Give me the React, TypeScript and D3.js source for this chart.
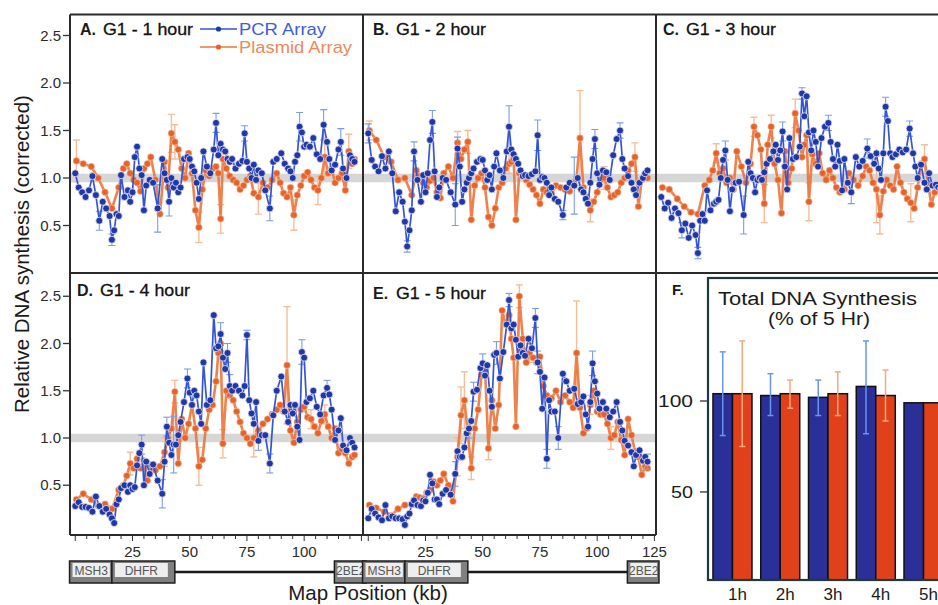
import React from 'react';
import * as d3 from 'd3';

const FONT = "'Liberation Sans', Arial, Helvetica, sans-serif";

// Probe positions (kb)
const PCR_KB = [
  0, 1.5, 3, 4.5, 6, 7.5, 9, 10.5, 12, 13.5,
  15, 16, 17, 18, 19, 20, 21.5, 23, 24, 25,
  26, 27, 28, 29, 30, 31, 32.5, 34, 36, 38,
  39, 40, 41, 42, 43, 44, 45, 46, 47.5, 49,
  50, 51, 52, 53, 54, 55, 56, 57.5, 59, 60.5,
  61.5, 62.5, 63.5, 64.5, 65.5, 66.5, 67.5, 68.5, 70, 71.5,
  73, 74, 75, 76, 77, 78, 79, 80, 81.5, 83,
  85, 86.5, 88, 90, 91.5, 93, 94, 95, 96, 97,
  98, 99, 100, 101, 102.5, 104, 105.5, 107, 108.5, 110,
  111, 112, 113.5, 115, 116, 117, 118.5, 120, 121, 122,
];
const PL_KB = [
  0.5, 3.5, 7, 10, 13, 16, 19, 21, 22.5, 24,
  25.5, 27, 28.5, 30, 31.5, 33, 35, 37, 39, 40.5,
  42, 43.5, 45, 46.5, 48, 49.5, 51, 52.5, 54, 55.5,
  57, 58.5, 60, 61.5, 62.5, 63.5, 64.5, 66, 67.5, 69,
  70.5, 72, 73.5, 75, 76.5, 78, 80, 82, 84, 86,
  88, 89.5, 91, 92.5, 94, 95.5, 97, 98.5, 100, 101.5,
  103, 104.5, 106, 107.5, 109, 110.5, 112, 113.5, 115, 116.5,
  118, 119.5, 121, 122,
];

// Panel A: G1 - 1 hour
const A_PCR = [
  1.05, 0.9, 0.85, 0.8, 0.87, 1.02, 0.82, 0.55, 0.75, 0.68,
  0.6, 0.35, 0.45, 0.62, 0.6, 1.03, 0.8, 0.87, 0.75, 0.85,
  1.22, 1.33, 1.1, 1.03, 0.66, 0.92, 0.98, 0.95, 0.68, 1.2,
  1.05, 0.98, 0.75, 1.0, 0.9, 0.95, 0.85, 0.9, 1.2, 1.22,
  1.2, 1.12, 1.07, 0.95, 0.78, 1.0, 1.28, 1.12, 1.05, 1.3,
  1.58, 1.24, 1.36, 1.3, 1.28, 1.2, 1.17, 1.2, 1.1, 1.15,
  1.18, 1.47, 1.17, 1.1, 1.0, 1.14, 0.98, 1.08, 1.05, 0.87,
  0.68, 1.17, 1.2, 1.26, 1.15, 1.1, 1.07, 1.0, 1.17, 1.24,
  1.54, 1.48, 1.33, 1.35, 1.33, 1.42, 1.25, 1.2, 1.56, 1.38,
  1.2, 1.08, 1.14, 1.3, 1.38, 1.1, 1.0, 1.24, 1.2, 1.17,
];
const A_PL = [
  1.18, 1.15, 1.12, 1.0, 0.85, 0.68, 0.9, 1.1, 1.15, 1.05,
  0.98, 0.95, 0.86, 1.1, 1.15, 1.22, 0.98, 0.62, 1.17, 0.9,
  1.47, 1.38, 1.3, 1.1, 1.0, 1.26, 1.05, 0.66, 0.48, 0.88,
  1.08, 1.02, 1.1, 1.12, 1.05, 0.57, 1.2, 1.1, 1.02, 0.98,
  0.95, 0.88, 0.92, 0.98, 1.02, 0.84, 0.8, 0.95, 0.9, 0.98,
  1.05, 0.95, 0.84, 0.8, 0.9, 0.61, 0.82, 0.92, 1.02, 1.06,
  0.98, 0.9, 0.87, 1.0, 1.22, 1.05, 1.1, 0.95, 1.0, 1.05,
  0.87, 1.28, 1.15, 1.2,
];
const A_PCR_ERR = [[7, 0.1], [11, 0.06], [28, 0.25], [32, 0.15], [50, 0.1], [61, 0.08], [70, 0.13], [80, 0.15], [88, 0.16], [94, 0.14]];
const A_PL_ERR = [[0, 0.22], [20, 0.2], [21, 0.18], [28, 0.16], [35, 0.15], [46, 0.18], [55, 0.16], [62, 0.15], [64, 0.2], [71, 0.18]];

// Panel B: G1 - 2 hour
const B_PCR = [
  1.47, 1.19, 1.12, 1.07, 1.23, 1.1, 1.28, 1.05, 0.65, 0.85,
  0.75, 0.54, 0.28, 0.45, 0.66, 1.28, 0.98, 0.75, 1.03, 0.85,
  1.05, 1.4, 1.59, 1.07, 0.8, 0.9, 1.0, 0.98, 0.85, 0.72,
  1.31, 1.12, 0.75, 0.88, 0.95, 1.0, 1.05, 1.1, 1.17, 1.2,
  1.19, 1.08, 0.98, 1.03, 0.88, 1.12, 1.26, 1.08, 1.0, 1.28,
  1.54, 1.3, 1.25, 1.2, 1.15, 1.08, 1.02, 1.03, 1.02, 1.04,
  1.07, 1.45, 0.98, 1.01, 1.0, 0.95, 0.82, 0.9, 0.78, 0.75,
  0.61, 0.9, 0.95, 0.92, 1.0, 0.88, 0.85, 0.78, 0.73, 0.95,
  1.2, 1.41, 1.05, 0.93, 1.08, 1.06, 0.98, 1.24, 1.41, 1.5,
  1.2, 1.1, 1.02, 0.95, 0.88, 0.82, 0.95, 1.0, 1.05, 1.08,
];
const B_PL = [
  1.5, 1.4, 1.22, 1.17, 0.98, 1.0, 0.82, 1.08, 1.02, 0.95,
  0.9, 0.97, 1.0, 0.85, 0.79, 1.05, 1.12, 1.0, 1.37, 1.2,
  1.3, 1.38, 0.56, 0.92, 1.0, 1.05, 0.9, 0.59, 0.5, 0.68,
  0.9, 0.95, 1.1, 1.15, 1.17, 1.2, 0.56, 1.05, 1.02, 0.98,
  0.93, 0.88, 0.82, 0.73, 0.88, 0.85, 0.83, 0.92, 0.9, 0.88,
  0.86, 0.95, 1.0, 1.42, 0.9, 0.8, 0.66, 0.75, 0.85, 0.98,
  1.0, 0.9, 0.8, 0.82, 0.85, 0.95, 1.0, 1.08, 1.15, 1.22,
  0.7, 0.98, 1.02, 1.0,
];
const B_PCR_ERR = [[0, 0.1], [12, 0.06], [15, 0.1], [22, 0.12], [29, 0.22], [30, 0.12], [50, 0.22], [61, 0.16], [70, 0.05], [73, 0.3], [81, 0.1], [89, 0.08]];
const B_PL_ERR = [[0, 0.1], [18, 0.12], [21, 0.12], [33, 0.1], [53, 0.5], [56, 0.12], [60, 0.12], [69, 0.15]];

// Panel C: G1 - 3 hour
const C_PCR = [
  0.8, 0.68, 0.74, 0.58, 0.68, 0.63, 0.45, 0.52, 0.37, 0.5,
  0.4, 0.21, 0.55, 0.62, 0.55, 0.87, 0.66, 0.73, 0.75, 0.77,
  1.0, 1.19, 1.29, 0.98, 0.65, 0.88, 0.95, 0.96, 0.61, 1.17,
  1.05, 1.0, 0.85, 0.98, 1.0, 0.98, 1.06, 1.15, 1.2, 1.28,
  1.35, 1.19, 1.29, 1.49, 1.12, 0.88, 1.42, 1.2, 1.22, 1.33,
  1.89, 1.65, 1.86, 1.48, 1.29, 1.5, 1.38, 1.12, 1.42, 1.54,
  1.58, 1.38, 1.2, 1.12, 1.35, 1.18, 0.87, 1.2, 0.95, 0.85,
  1.22, 1.12, 1.18, 1.31, 1.23, 1.15, 1.26, 1.1, 0.98, 1.26,
  1.75, 1.6, 1.26, 1.22, 1.25, 1.3, 1.27, 1.3, 1.52, 1.26,
  1.12, 1.0, 1.14, 0.95, 0.88, 1.05, 0.92, 0.93, 0.9, 0.88,
];
const C_PL = [
  0.9, 0.88, 0.78, 0.7, 0.64, 0.62, 0.92, 0.98, 1.08, 1.26,
  1.05, 1.1, 0.95, 1.0, 0.88, 1.28, 1.12, 0.95, 1.15, 1.54,
  1.45, 1.3, 0.73, 1.35, 1.54, 1.15, 0.98, 0.63, 1.28, 0.95,
  1.1, 1.68, 1.5, 1.22, 1.35, 1.45, 0.75, 1.25, 1.15, 1.26,
  1.05, 0.98, 1.08, 1.0, 0.9, 0.85, 0.88, 1.05, 0.98, 0.92,
  1.02, 1.12, 1.08, 0.95, 0.88, 0.61, 0.86, 0.98, 0.92, 0.88,
  1.12, 0.95, 0.85, 0.78, 0.74, 0.68, 0.9, 1.15, 1.2, 0.95,
  0.72, 0.85, 0.9, 0.9,
];
const C_PCR_ERRS = [[6, 0.08], [11, 0.06], [22, 0.1], [28, 0.2], [43, 0.1], [50, 0.06], [60, 0.08], [69, 0.12], [73, 0.1], [80, 0.1], [88, 0.08]];
const C_PL_ERRS = [[9, 0.1], [19, 0.1], [22, 0.2], [24, 0.12], [31, 0.15], [36, 0.2], [54, 0.35], [55, 0.2], [64, 0.2], [68, 0.15]];

// Panel D: G1 - 4 hour
const D_PCR = [
  0.28, 0.32, 0.27, 0.27, 0.26, 0.22, 0.38, 0.28, 0.22, 0.25,
  0.19, 0.15, 0.1, 0.3, 0.35, 0.47, 0.5, 0.43, 0.5, 0.46,
  0.48, 0.71, 0.84, 0.93, 0.5, 0.75, 0.62, 0.72, 0.55, 0.41,
  0.75, 1.12, 0.95, 0.82, 0.93, 0.93, 1.03, 1.17, 1.38, 1.63,
  1.48, 1.35, 1.5, 1.45, 1.28, 1.15, 1.8, 1.35, 1.4, 2.3,
  1.95, 1.97, 2.1, 1.85, 1.73, 1.9, 1.55, 1.5, 1.55, 1.5,
  1.45, 1.55, 2.09, 1.4, 1.26, 1.15, 1.38, 0.97, 1.03, 1.03,
  0.73, 1.24, 1.5, 1.65, 1.28, 1.17, 1.35, 1.26, 1.35, 1.12,
  0.98, 1.91, 1.85, 1.38, 1.42, 1.5, 1.33, 1.25, 1.45, 1.53,
  1.46, 1.3, 0.98, 1.08, 1.21, 0.92, 0.87, 1.0, 0.95, 0.9,
];
const D_PL = [
  0.35, 0.41, 0.35, 0.28, 0.3, 0.25, 0.45, 0.5, 0.6, 0.73,
  0.68, 0.78, 0.68, 0.76, 0.55, 0.72, 0.66, 0.7, 0.85, 1.0,
  1.1, 1.49, 0.73, 1.2, 1.0, 1.15, 1.35, 1.1, 0.7, 0.77,
  1.1, 1.3, 1.35, 1.6, 1.9, 2.0, 0.94, 1.5, 1.45, 1.4,
  1.28, 1.17, 1.05, 1.0, 0.94, 1.0, 1.08, 1.15, 1.2, 1.25,
  1.3, 1.35, 1.28, 1.77, 1.08, 0.95, 1.17, 1.3, 1.33, 1.22,
  1.2, 1.12, 1.05, 1.18, 1.25, 1.12, 1.0, 1.1, 0.84, 0.88,
  0.84, 0.73, 0.8, 0.82,
];
const D_PCR_ERR = [[23, 0.1], [29, 0.15], [31, 0.1], [34, 0.3], [39, 0.1], [52, 0.12], [55, 0.1], [56, 0.12], [62, 0.05], [67, 0.1], [70, 0.1], [81, 0.13], [89, 0.08]];
const D_PL_ERR = [[9, 0.12], [18, 0.15], [21, 0.12], [28, 0.2], [35, 0.08], [36, 0.15], [45, 0.2], [53, 0.62], [60, 0.1], [64, 0.1]];

// Panel E: G1 - 5 hour
const E_PCR = [
  0.15, 0.25, 0.2, 0.16, 0.13, 0.29, 0.15, 0.17, 0.15, 0.15,
  0.14, 0.08, 0.17, 0.2, 0.3, 0.34, 0.29, 0.28, 0.34, 0.33,
  0.42, 0.61, 0.52, 0.35, 0.35, 0.3, 0.41, 0.45, 0.4, 0.62,
  0.86, 0.8, 0.8, 0.9, 1.05, 1.1, 1.18, 1.49, 1.51, 1.74,
  1.79, 1.66, 1.77, 1.5, 1.33, 1.88, 1.9, 1.63, 1.91, 2.2,
  2.46, 2.16, 2.2, 2.04, 1.86, 1.98, 1.9, 1.87, 2.05, 1.95,
  2.27, 1.8, 1.7, 1.31, 1.64, 0.78, 1.4, 1.28, 1.28, 1.0,
  1.68, 1.6, 1.5, 1.52, 1.36, 1.38, 1.44, 1.25, 1.12, 1.38,
  1.79, 1.6, 1.47, 1.31, 1.38, 1.31, 1.22, 1.28, 1.38, 1.17,
  1.08, 0.97, 0.92, 0.85, 0.7, 0.82, 0.87, 0.76, 0.8, 0.75,
];
const E_PL = [
  0.29, 0.26, 0.22, 0.18, 0.25, 0.29, 0.3, 0.38, 0.37, 0.36,
  0.42, 0.45, 0.54, 0.5, 0.55, 0.62, 0.5, 0.33, 0.8, 1.24,
  1.4, 1.05, 0.68, 1.1, 1.3, 1.67, 1.74, 0.89, 1.4, 1.1,
  1.35, 2.35, 2.2, 2.3, 2.05, 1.85, 1.12, 2.5, 2.05, 1.8,
  1.9, 1.85, 1.8, 1.86, 1.55, 1.45, 1.42, 1.5, 1.38, 1.45,
  1.38, 1.32, 1.9, 1.32, 1.05, 1.1, 1.35, 1.5, 1.28, 1.25,
  1.25, 1.15, 1.0, 1.03, 1.17, 0.98, 0.82, 1.2, 1.03, 0.86,
  0.8, 0.61, 0.7, 0.68,
];
const E_PCR_ERR = [[29, 0.13], [35, 0.1], [37, 0.1], [40, 0.1], [46, 0.12], [50, 0.07], [60, 0.1], [61, 0.12], [65, 0.1], [69, 0.12], [80, 0.13], [99, 0.08]];
const E_PL_ERR = [[18, 0.2], [19, 0.3], [20, 0.3], [22, 0.12], [27, 0.12], [37, 0.12], [40, 0.1], [52, 0.55], [56, 0.1], [62, 0.12]];

const PANEL_LETTERS = ['A', 'B', 'C', 'D', 'E'];
const PANEL_TITLES = ['G1 - 1 hour', 'G1 - 2 hour', 'G1 - 3 hour', 'G1 - 4 hour', 'G1 - 5 hour'];
const Y_TICKS = [0.5, 1.0, 1.5, 2.0, 2.5];
const X_LABELS_D = [25, 50, 75, 100];
const X_LABELS_E = [25, 50, 75, 100, 125];
const X_MINOR = d3.range(0, 126, 5);

// Gene map (kb)
const GENE_NAMES = ['MSH3', 'DHFR', '2BE2'];
const GENE_START = [-2.5, 16, 113.2];
const GENE_END = [16, 43.5, 127];
const MAP_LINE = [43.5, 113.2];

// Panel F: total DNA synthesis (% of 5 hr)
const HOURS = ['1h', '2h', '3h', '4h', '5h'];
const TOTAL_PCR = [104, 103, 102, 108, 99];
const TOTAL_PL = [104, 104, 104, 103, 99];
const TOTAL_PCR_LO = [81, 92, 92, 82, 99];
const TOTAL_PCR_HI = [127, 115, 111.5, 133, 99];
const TOTAL_PL_LO = [75, 96, 92, 89, 99];
const TOTAL_PL_HI = [133, 111.5, 116, 117, 99];
const F_TICKS = [50, 100];

const COL_PCR_LINE = '#3354d4';
const COL_PCR_DOT = '#1d39a6';
const COL_PCR_ERR = '#7a9de8';
const COL_PL_LINE = '#ec7438';
const COL_PL_DOT = '#e6622a';
const COL_PL_ERR = '#f7bd98';

const KB_DOMAIN = [-2.3, 125.7];
const PW = 293;

const yTop = d3.scaleLinear().domain([0, 2.5]).range([273, 35.5]);
const yBot = d3.scaleLinear().domain([0, 2.5]).range([532.5, 296.25]);

const GEOM = [
  { left: 70, top: 14.5, bottom: 273, row: 0, tx: 80, ty: 35 },
  { left: 363, top: 14.5, bottom: 273, row: 0, tx: 373, ty: 35 },
  { left: 656, top: 14.5, bottom: 273, row: 0, tx: 663, ty: 35 },
  { left: 70, top: 273, bottom: 535, row: 1, tx: 77, ty: 296 },
  { left: 363, top: 273, bottom: 535, row: 1, tx: 373, ty: 299 },
];
const SERIES = [
  [A_PCR, A_PL, A_PCR_ERR, A_PL_ERR],
  [B_PCR, B_PL, B_PCR_ERR, B_PL_ERR],
  [C_PCR, C_PL, C_PCR_ERRS, C_PL_ERRS],
  [D_PCR, D_PL, D_PCR_ERR, D_PL_ERR],
  [E_PCR, E_PL, E_PCR_ERR, E_PL_ERR],
];

function ErrBars({ kb, vals, errs, x, y, color, w }: any) {
  return (
    <g stroke={color} strokeWidth={w} fill="none">
      {errs.map(([i, e]: number[], k: number) => {
        const v = vals[i];
        if (v === undefined) return null;
        const xx = x(kb[i]);
        const y1 = y(v - e);
        const y2 = y(v + e);
        return (
          <g key={k}>
            <line x1={xx} x2={xx} y1={y1} y2={y2} />
            <line x1={xx - 3.5} x2={xx + 3.5} y1={y1} y2={y1} />
            <line x1={xx - 3.5} x2={xx + 3.5} y1={y2} y2={y2} />
          </g>
        );
      })}
    </g>
  );
}

function Panel({ idx }: { idx: number }) {
  const g = GEOM[idx];
  const [pcr, pl, pcrErr, plErr] = SERIES[idx] as any;
  const x = d3.scaleLinear().domain(KB_DOMAIN).range([g.left, g.left + PW]);
  const y = g.row === 0 ? yTop : yBot;
  const n1 = Math.min(pcr.length, PCR_KB.length);
  const n2 = Math.min(pl.length, PL_KB.length);
  const pcrPts = d3.range(n1).map((i) => [PCR_KB[i], pcr[i]]);
  const plPts = d3.range(n2).map((i) => [PL_KB[i], pl[i]]);
  const line = d3.line<number[]>().x((d) => x(d[0])).y((d) => y(d[1]));
  const clipId = `clip${PANEL_LETTERS[idx]}`;
  return (
    <g>
      <defs>
        <clipPath id={clipId}>
          <rect x={g.left + 1} y={g.top + 1} width={PW - 2} height={g.bottom - g.top - 2} />
        </clipPath>
      </defs>
      <g clipPath={`url(#${clipId})`}>
        <rect x={g.left} width={PW} y={y(1.045)} height={y(0.955) - y(1.045)} fill="#d6d6d6" />
        <ErrBars kb={PL_KB} vals={pl} errs={plErr} x={x} y={y} color={COL_PL_ERR} w={1.4} />
        <path d={line(plPts) || ''} fill="none" stroke={COL_PL_LINE} strokeWidth={2.6} strokeOpacity={0.9} strokeLinejoin="round" />
        {plPts.map((d, i) => (
          <circle key={i} cx={x(d[0])} cy={y(d[1])} r={3.3} fill={COL_PL_DOT} stroke="#f6c4a6" strokeWidth={0.6} />
        ))}
        <ErrBars kb={PCR_KB} vals={pcr} errs={pcrErr} x={x} y={y} color={COL_PCR_ERR} w={1.1} />
        <path d={line(pcrPts) || ''} fill="none" stroke={COL_PCR_LINE} strokeWidth={1.7} strokeLinejoin="round" />
        {pcrPts.map((d, i) => (
          <circle key={i} cx={x(d[0])} cy={y(d[1])} r={3.5} fill={COL_PCR_DOT} stroke="#efe2f2" strokeWidth={0.8} />
        ))}
      </g>
      <text x={g.tx} y={g.ty} fontSize={16} fontWeight="bold" fill="#1a1a1a">{PANEL_LETTERS[idx]}.</text>
      <text x={g.tx + 23} y={g.ty} fontSize={16.5} fill="#111" stroke="#111" strokeWidth={0.3} textLength={90} lengthAdjust="spacingAndGlyphs">
        {PANEL_TITLES[idx]}
      </text>
    </g>
  );
}

function YAxis({ row }: { row: number }) {
  const y = row === 0 ? yTop : yBot;
  return (
    <g>
      {Y_TICKS.map((t) => (
        <g key={t}>
          <line x1={63} x2={70} y1={y(t)} y2={y(t)} stroke="#333" strokeWidth={1.3} />
          <text x={61} y={y(t) + 5} textAnchor="end" fontSize={15} fill="#2a2a2a">{t.toFixed(1)}</text>
        </g>
      ))}
    </g>
  );
}

function XAxis({ left, labels }: { left: number; labels: number[] }) {
  const x = d3.scaleLinear().domain(KB_DOMAIN).range([left, left + PW]);
  return (
    <g>
      {X_MINOR.map((t) => (
        <line key={t} x1={x(t)} x2={x(t)} y1={535} y2={t % 25 === 0 ? 541 : 539} stroke="#333" strokeWidth={1} />
      ))}
      {labels.map((t) => (
        <text key={t} x={x(t)} y={557} textAnchor="middle" fontSize={15} fill="#2a2a2a">{t}</text>
      ))}
    </g>
  );
}

function GeneMap({ left }: { left: number }) {
  const x = d3.scaleLinear().domain(KB_DOMAIN).range([left, left + PW]);
  return (
    <g>
      <line x1={x(MAP_LINE[0])} x2={x(MAP_LINE[1])} y1={572} y2={572} stroke="#1a1a1a" strokeWidth={2.5} />
      {GENE_NAMES.map((name, i) => {
        const x0 = x(GENE_START[i]);
        const x1 = x(GENE_END[i]);
        const ix1 = i === 1 ? x1 - 7 : x1 - 2;
        return (
          <g key={name}>
            <rect x={x0} y={561} width={x1 - x0} height={22} fill="#808080" stroke="#1e1e1e" strokeWidth={1.5} />
            <rect x={x0 + 3} y={563} width={ix1 - x0 - 3} height={14} fill="#eeeeee" />
            <text x={(x0 + 3 + ix1) / 2} y={575} textAnchor="middle" fontSize={12} fill="#555">{name}</text>
          </g>
        );
      })}
    </g>
  );
}

function PanelF() {
  const y = d3.scaleLinear().domain([1.6, 167.6]).range([580, 278]);
  const xb = d3.scaleBand<string>().domain(HOURS).range([708.6, 947.4]).paddingInner(0.183).paddingOuter(0.0915);
  const xs = d3.scaleBand<string>().domain(['pcr', 'pl']).range([0, xb.bandwidth()]);
  return (
    <g>
      {HOURS.map((h, i) => {
        const bx = xb(h) as number;
        const bw = xs.bandwidth();
        const xp = bx + (xs('pcr') as number);
        const xl = bx + (xs('pl') as number);
        return (
          <g key={h}>
            <rect x={xp} y={y(TOTAL_PCR[i])} width={bw} height={580 - y(TOTAL_PCR[i])} fill="#2b2f98" stroke="#111" strokeWidth={1.5} />
            <rect x={xl} y={y(TOTAL_PL[i])} width={bw} height={580 - y(TOTAL_PL[i])} fill="#e0411b" stroke="#111" strokeWidth={1.5} />
            {TOTAL_PCR_HI[i] > TOTAL_PCR_LO[i] && (
              <g stroke="#6a96ea" strokeWidth={1.5}>
                <line x1={xp + bw / 2} x2={xp + bw / 2} y1={y(TOTAL_PCR_LO[i])} y2={y(TOTAL_PCR_HI[i])} />
                <line x1={xp + bw / 2 - 3} x2={xp + bw / 2 + 3} y1={y(TOTAL_PCR_HI[i])} y2={y(TOTAL_PCR_HI[i])} />
                <line x1={xp + bw / 2 - 3} x2={xp + bw / 2 + 3} y1={y(TOTAL_PCR_LO[i])} y2={y(TOTAL_PCR_LO[i])} />
              </g>
            )}
            {TOTAL_PL_HI[i] > TOTAL_PL_LO[i] && (
              <g stroke="#f6a87e" strokeWidth={1.5}>
                <line x1={xl + bw / 2} x2={xl + bw / 2} y1={y(TOTAL_PL_LO[i])} y2={y(TOTAL_PL_HI[i])} />
                <line x1={xl + bw / 2 - 3} x2={xl + bw / 2 + 3} y1={y(TOTAL_PL_HI[i])} y2={y(TOTAL_PL_HI[i])} />
                <line x1={xl + bw / 2 - 3} x2={xl + bw / 2 + 3} y1={y(TOTAL_PL_LO[i])} y2={y(TOTAL_PL_LO[i])} />
              </g>
            )}
            <text x={bx + xb.bandwidth() / 2 + 5} y={600} textAnchor="middle" fontSize={17} fill="#1a1a1a">{h}</text>
          </g>
        );
      })}
      <rect x={708} y={278} width={240} height={302} fill="none" stroke="#22393a" strokeWidth={2.2} />
      {F_TICKS.map((t) => (
        <g key={t}>
          <line x1={700} x2={708} y1={y(t)} y2={y(t)} stroke="#333" strokeWidth={1.3} />
          <text x={693} y={y(t) + 6} textAnchor="end" fontSize={17} fill="#1a1a1a"
            textLength={t >= 100 ? 35 : 22} lengthAdjust="spacingAndGlyphs">{t}</text>
        </g>
      ))}
      <text x={672} y={295} fontSize={15} fontWeight="bold" fill="#1a1a1a">F.</text>
      <text x={718} y={305} fontSize={18} fill="#1a1a1a" textLength={199} lengthAdjust="spacingAndGlyphs">Total  DNA Synthesis</text>
      <text x={768} y={325} fontSize={18} fill="#1a1a1a" textLength={102} lengthAdjust="spacingAndGlyphs">(% of 5 Hr)</text>
    </g>
  );
}

export default function App() {
  return (
    <svg width={938} height={605} style={{ position: 'absolute', left: 0, top: 0, display: 'block', background: '#fff' }} fontFamily={FONT}>
      <rect width={938} height={605} fill="#fff" />
      {GEOM.map((_, i) => <Panel key={i} idx={i} />)}
      <g>
        <line x1={200} x2={237} y1={29} y2={29} stroke={COL_PCR_LINE} strokeWidth={1.6} />
        <circle cx={218.5} cy={29} r={2.6} fill={COL_PCR_DOT} />
        <text x={239} y={35} fontSize={17} fill="#3d5ce0" textLength={87} lengthAdjust="spacingAndGlyphs">PCR Array</text>
        <line x1={200} x2={237} y1={47} y2={47} stroke={COL_PL_LINE} strokeWidth={1.6} />
        <circle cx={218.5} cy={47} r={2.6} fill={COL_PL_DOT} />
        <text x={239} y={53} fontSize={17} fill="#f0875a" textLength={113} lengthAdjust="spacingAndGlyphs">Plasmid Array</text>
      </g>
      <YAxis row={0} />
      <YAxis row={1} />
      <XAxis left={70} labels={X_LABELS_D} />
      <XAxis left={363} labels={X_LABELS_E} />
      <GeneMap left={70} />
      <GeneMap left={363} />
      <g stroke="#2a2a2a" strokeWidth={2} fill="none">
        <line x1={70} x2={938} y1={14.5} y2={14.5} />
        <line x1={70} x2={938} y1={273} y2={273} />
        <line x1={70} x2={656} y1={535} y2={535} />
        <line x1={70} x2={70} y1={14.5} y2={535} />
        <line x1={363} x2={363} y1={14.5} y2={535} />
        <line x1={656} x2={656} y1={14.5} y2={535} />
      </g>
      <PanelF />
      <text x={368} y={600} textAnchor="middle" fontSize={20.5} fill="#1a1a1a">Map Position (kb)</text>
      <text x={28.5} y={254} textAnchor="middle" fontSize={20.5} fill="#1a1a1a" transform="rotate(-90 28.5 254)">
        Relative DNA synthesis (corrected)
      </text>
    </svg>
  );
}
